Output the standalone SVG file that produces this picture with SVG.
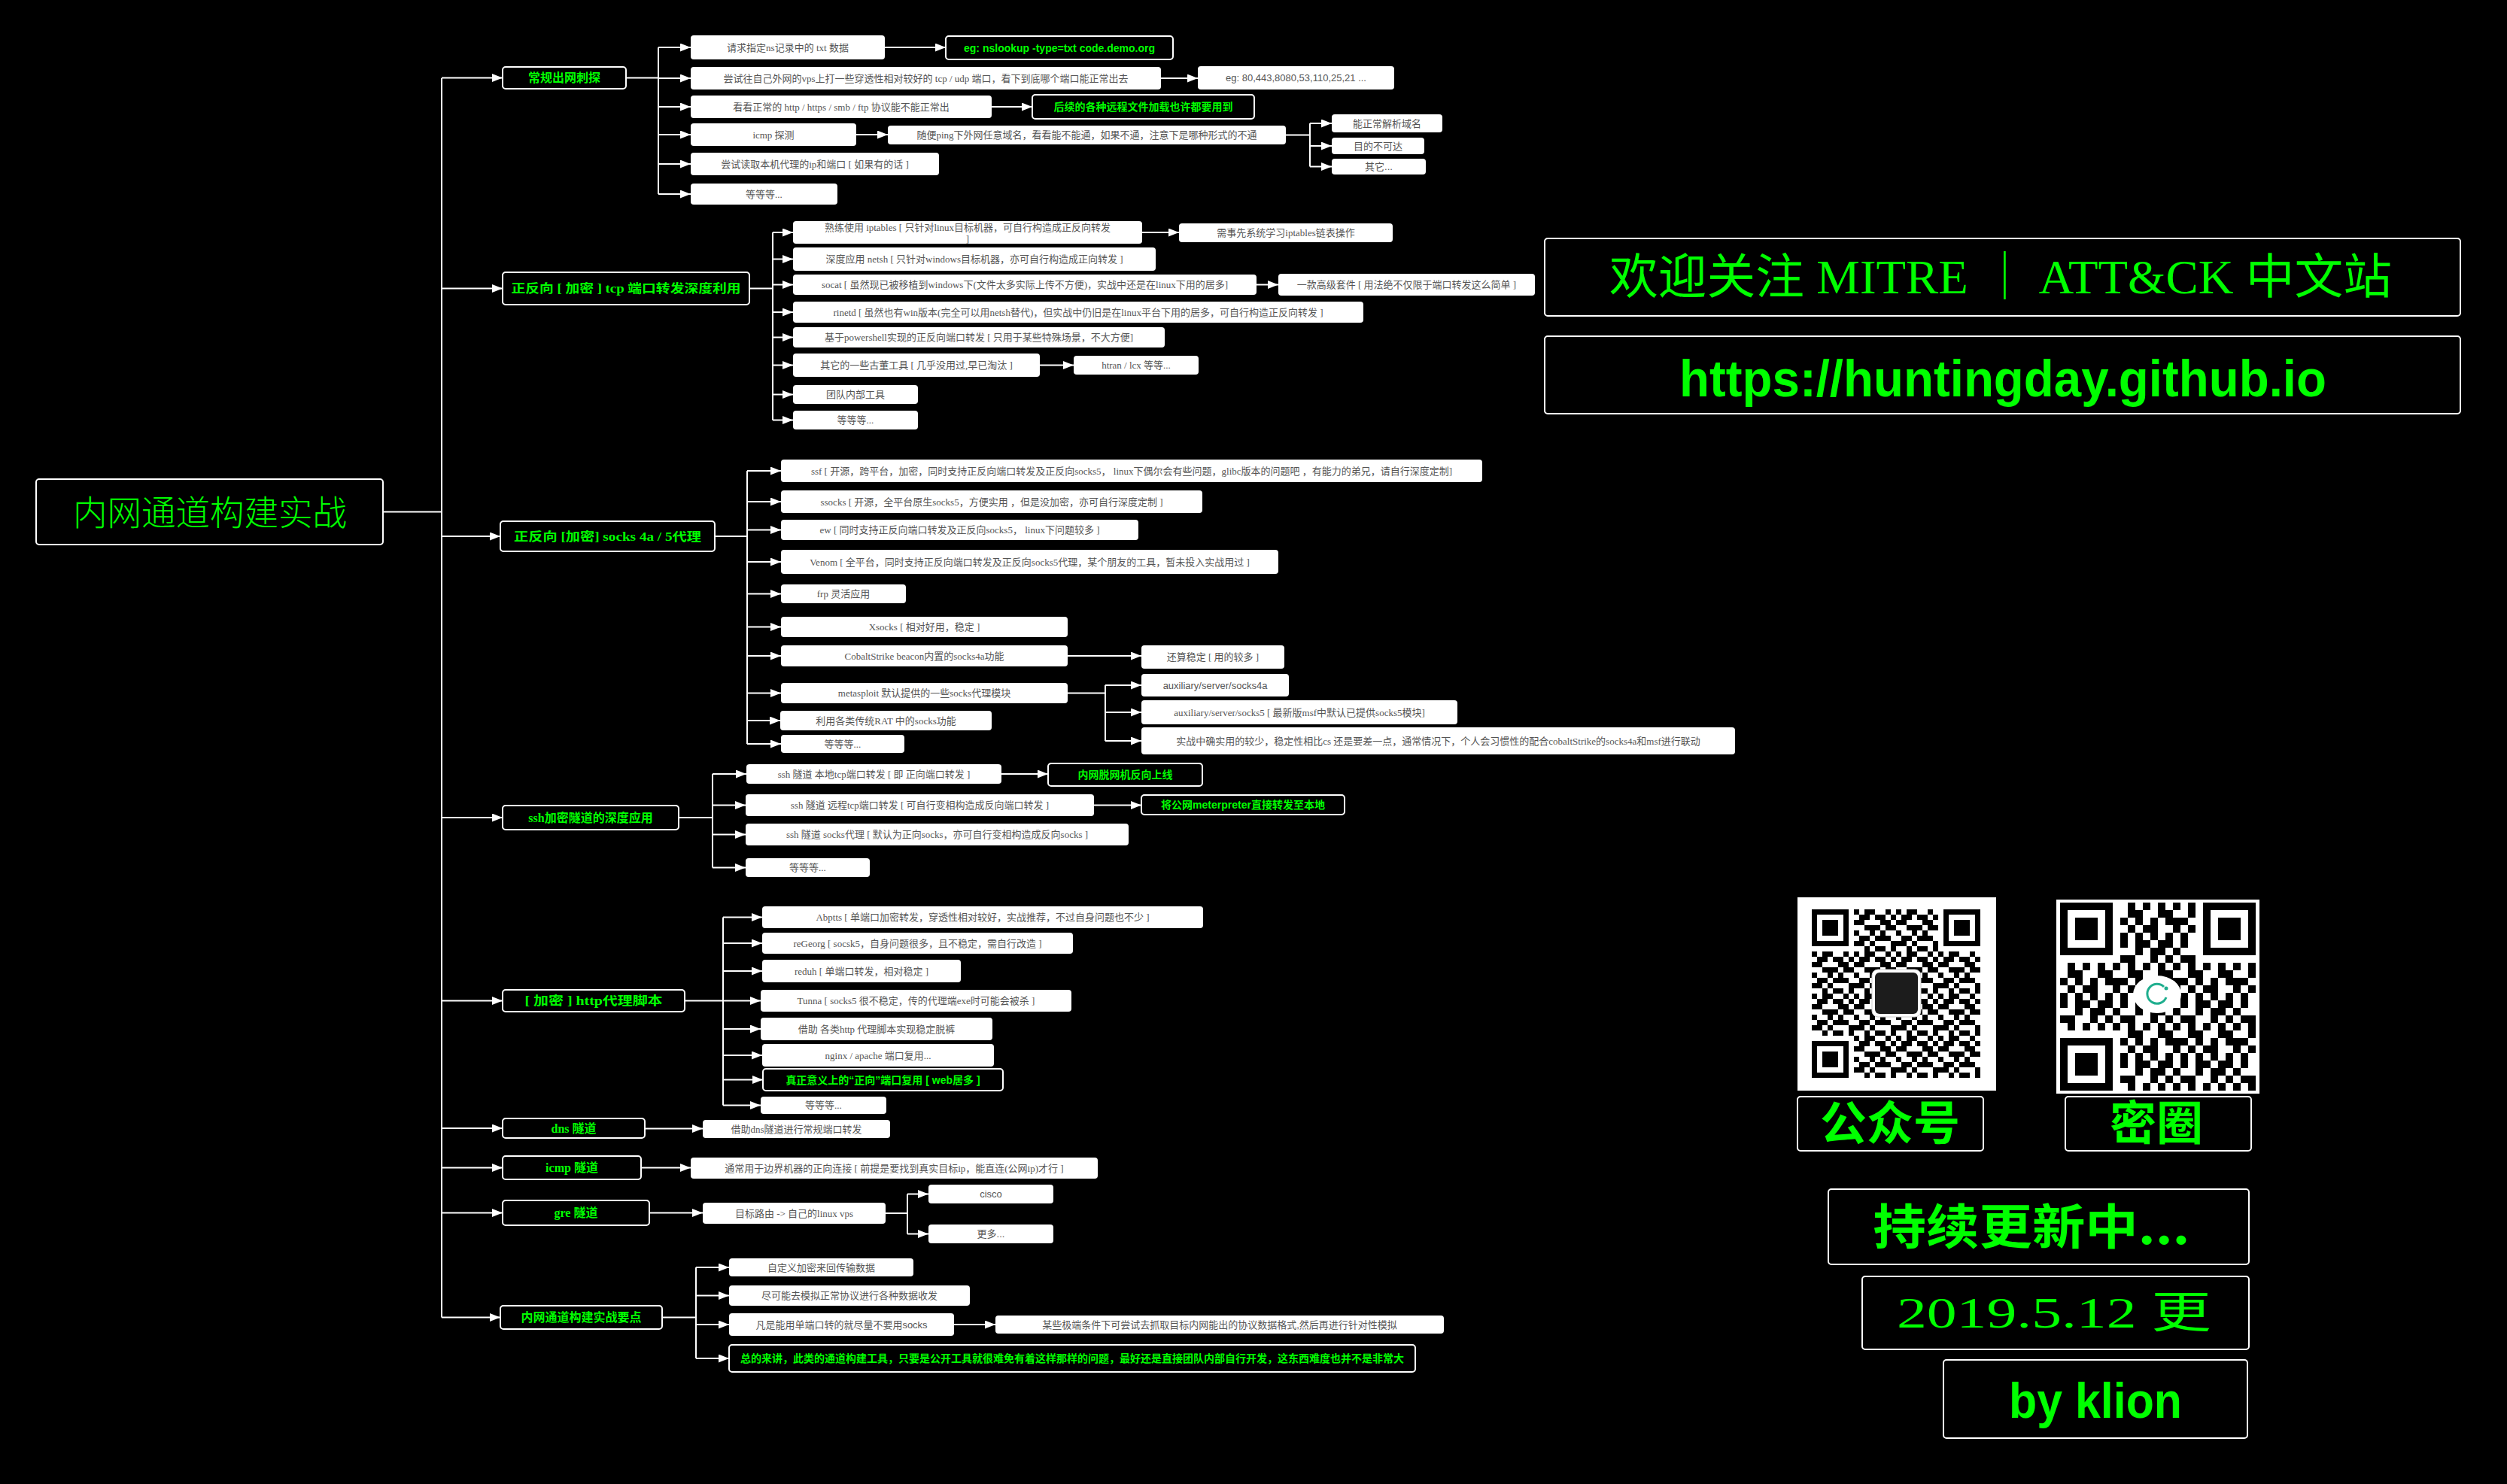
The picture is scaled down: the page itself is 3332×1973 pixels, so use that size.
<svg xmlns="http://www.w3.org/2000/svg" width="3332" height="1973" viewBox="0 0 3332 1973">
<style>
.w rect{fill:#fff}
.g rect{fill:#000;stroke:#fff;stroke-width:2}
text{dominant-baseline:central;text-anchor:middle}
.t{font-family:"Liberation Serif","Noto Sans CJK SC",serif;font-size:13px;fill:#555}
.s{font-family:"Liberation Sans","Noto Sans CJK SC",sans-serif;font-size:13px;fill:#555}
.gt{font-family:"Liberation Sans","Noto Sans CJK SC",sans-serif;font-size:14px;fill:#00ff00;font-weight:bold}
.pt{font-family:"Liberation Serif","Noto Sans CJK SC",serif;font-size:16px;fill:#00ff00;font-weight:bold}
.big{dominant-baseline:auto;fill:#00ff00}
.c{fill:none;stroke:#fff;stroke-width:2}
.a{marker-end:url(#arr)}
</style>
<defs>
<marker id="arr" markerUnits="userSpaceOnUse" viewBox="0 0 14 11" refX="14" refY="5.5" markerWidth="14" markerHeight="11" orient="auto"><path d="M0 0L14 5.5L0 11z" fill="#fff"/></marker>
<path id="tile" d="M0 0h1v1h-1z M2 0h2v1h-2z M6 0h1v1h-1z M1 1h2v1h-2z M4 1h2v1h-2z M7 1h1v1h-1z M0 2h2v1h-2z M5 2h2v1h-2z M2 3h3v1h-3z M6 3h2v1h-2z M0 4h1v1h-1z M3 4h1v1h-1z M5 4h1v1h-1z M1 5h2v1h-2z M4 5h3v1h-3z M0 6h2v1h-2z M3 6h1v1h-1z M7 6h1v1h-1z M2 7h1v1h-1z M4 7h2v1h-2z M7 7h1v1h-1z"/>
<pattern id="qr1" patternUnits="userSpaceOnUse" width="8" height="8" patternTransform="translate(2408 1209) scale(7)"><use href="#tile" fill="#000"/></pattern>
<pattern id="qr2" patternUnits="userSpaceOnUse" width="8" height="8" patternTransform="translate(2738 1200) scale(10) rotate(90)"><use href="#tile" fill="#000"/></pattern>
</defs>
<rect width="3332" height="1973" fill="#000"/>

<g id="connectors">
<path class="c" d="M509 680.5H587M587 104V1751.5"/>
<path class="c a" d="M587 103.5H668"/>
<path class="c a" d="M587 383.5H668"/>
<path class="c a" d="M587 713H665"/>
<path class="c a" d="M587 1087H668"/>
<path class="c a" d="M587 1330.5H668"/>
<path class="c a" d="M587 1500H668"/>
<path class="c a" d="M587 1552.5H668"/>
<path class="c a" d="M587 1612.5H668"/>
<path class="c a" d="M587 1751.5H665"/>
<path class="c" d="M832 103.5H875M875 63V258"/>
<path class="c a" d="M875 63H918"/>
<path class="c a" d="M875 104H918"/>
<path class="c a" d="M875 142H918"/>
<path class="c a" d="M875 179H918"/>
<path class="c a" d="M875 218H918"/>
<path class="c a" d="M875 258H918"/>
<path class="c a" d="M1176 63H1257"/>
<path class="c a" d="M1543 104H1592"/>
<path class="c a" d="M1318 142H1372"/>
<path class="c a" d="M1138 179H1180"/>
<path class="c" d="M1709 179.5H1741M1741 164V221.5"/>
<path class="c a" d="M1741 164H1770"/>
<path class="c a" d="M1741 194H1770"/>
<path class="c a" d="M1741 221.5H1770"/>
<path class="c" d="M996 383.5H1027M1027 309V558.5"/>
<path class="c a" d="M1027 309H1054"/>
<path class="c a" d="M1027 344.5H1054"/>
<path class="c a" d="M1027 378.5H1054"/>
<path class="c a" d="M1027 415H1054"/>
<path class="c a" d="M1027 448.5H1054"/>
<path class="c a" d="M1027 485.5H1054"/>
<path class="c a" d="M1027 524.5H1054"/>
<path class="c a" d="M1027 558.5H1054"/>
<path class="c a" d="M1518 309H1567"/>
<path class="c a" d="M1670 378.5H1699"/>
<path class="c a" d="M1382 485.5H1427"/>
<path class="c" d="M950 713H993M993 626V989"/>
<path class="c a" d="M993 626H1038"/>
<path class="c a" d="M993 667H1038"/>
<path class="c a" d="M993 704.5H1038"/>
<path class="c a" d="M993 747H1038"/>
<path class="c a" d="M993 789.5H1038"/>
<path class="c a" d="M993 833.5H1038"/>
<path class="c a" d="M993 872H1038"/>
<path class="c a" d="M993 921.5H1038"/>
<path class="c a" d="M993 958H1037"/>
<path class="c a" d="M993 989H1038"/>
<path class="c a" d="M1419 872H1517"/>
<path class="c" d="M1419 921.5H1469M1469 911V985"/>
<path class="c a" d="M1469 911H1517"/>
<path class="c a" d="M1469 947H1517"/>
<path class="c a" d="M1469 985H1517"/>
<path class="c" d="M902 1087H947M947 1029V1153.5"/>
<path class="c a" d="M947 1029H992"/>
<path class="c a" d="M947 1070.5H991"/>
<path class="c a" d="M947 1109.5H991"/>
<path class="c a" d="M947 1153.5H991"/>
<path class="c a" d="M1331 1029H1393"/>
<path class="c a" d="M1454 1070.5H1517"/>
<path class="c" d="M910 1330.5H961M961 1219.5V1469.5"/>
<path class="c a" d="M961 1219.5H1013"/>
<path class="c a" d="M961 1254H1013"/>
<path class="c a" d="M961 1291H1013"/>
<path class="c a" d="M961 1330.5H1011"/>
<path class="c a" d="M961 1368H1011"/>
<path class="c a" d="M961 1403H1013"/>
<path class="c a" d="M961 1435.5H1014"/>
<path class="c a" d="M961 1469.5H1011"/>
<path class="c a" d="M857 1500.5H934"/>
<path class="c a" d="M852 1552.5H918"/>
<path class="c a" d="M863 1612.5H934"/>
<path class="c" d="M1177 1613H1206M1206 1587.5V1640.5"/>
<path class="c a" d="M1206 1587.5H1234"/>
<path class="c a" d="M1206 1640.5H1234"/>
<path class="c" d="M880 1751.5H925M925 1685V1806"/>
<path class="c a" d="M925 1685H969"/>
<path class="c a" d="M925 1722.5H969"/>
<path class="c a" d="M925 1761H969"/>
<path class="c a" d="M925 1806H969"/>
<path class="c a" d="M1268 1761H1323"/>
</g>

<g id="root" class="g"><rect x="48" y="637" width="461" height="87" rx="4"/><text x="279" y="698" class="big" style="font-family:'Noto Sans CJK SC',serif;font-size:46px;font-weight:300" textLength="364" lengthAdjust="spacingAndGlyphs">内网通道构建实战</text></g>

<g id="p1" class="g"><rect x="668" y="89" width="164" height="29" rx="4"/><text class="pt" x="750" y="103.5">常规出网刺探</text></g>
<g id="p2" class="g"><rect x="668" y="362" width="328" height="43" rx="4"/><text class="pt" x="832" y="383.5" textLength="305" lengthAdjust="spacingAndGlyphs">正反向 [ 加密 ]  tcp 端口转发深度利用</text></g>
<g id="p3" class="g"><rect x="665" y="693" width="285" height="40" rx="4"/><text class="pt" x="807.5" y="713" textLength="249" lengthAdjust="spacingAndGlyphs">正反向 [加密] socks 4a / 5代理</text></g>
<g id="p4" class="g"><rect x="668" y="1071" width="234" height="32" rx="4"/><text class="pt" x="785" y="1087">ssh加密隧道的深度应用</text></g>
<g id="p5" class="g"><rect x="668" y="1316" width="242" height="29" rx="4"/><text class="pt" x="789" y="1330.5" textLength="183" lengthAdjust="spacingAndGlyphs">[ 加密 ]  http代理脚本</text></g>
<g id="p6" class="g"><rect x="668" y="1487" width="189" height="26" rx="4"/><text class="pt" x="762.5" y="1500">dns 隧道</text></g>
<g id="p7" class="g"><rect x="668" y="1537" width="184" height="31" rx="4"/><text class="pt" x="760" y="1552.5">icmp 隧道</text></g>
<g id="p8" class="g"><rect x="668" y="1596" width="195" height="33" rx="4"/><text class="pt" x="765.5" y="1612.5">gre 隧道</text></g>
<g id="p9" class="g"><rect x="665" y="1736" width="215" height="31" rx="4"/><text class="pt" x="772.5" y="1751.5">内网通道构建实战要点</text></g>

<g id="a1" class="w"><rect x="918" y="47" width="258" height="32" rx="4"/><text class="t" x="1047" y="63">请求指定ns记录中的 txt 数据</text></g>
<g id="a1x" class="g"><rect x="1257" y="48" width="302" height="31" rx="4"/><text class="gt" x="1408" y="63.5">eg: nslookup -type=txt code.demo.org</text></g>
<g id="a2" class="w"><rect x="918" y="89" width="625" height="30" rx="4"/><text class="t" x="1230.5" y="104">尝试往自己外网的vps上打一些穿透性相对较好的 tcp / udp 端口，看下到底哪个端口能正常出去</text></g>
<g id="a2x" class="w"><rect x="1592" y="88" width="261" height="31" rx="4"/><text class="s" x="1722.5" y="103.5">eg: 80,443,8080,53,110,25,21 ...</text></g>
<g id="a3" class="w"><rect x="918" y="127" width="400" height="30" rx="4"/><text class="t" x="1118" y="142">看看正常的 http / https / smb / ftp 协议能不能正常出</text></g>
<g id="a3x" class="g"><rect x="1372" y="126" width="295" height="32" rx="4"/><text class="gt" x="1519.5" y="142">后续的各种远程文件加载也许都要用到</text></g>
<g id="a4" class="w"><rect x="918" y="164" width="220" height="30" rx="4"/><text class="t" x="1028" y="179">icmp 探测</text></g>
<g id="a4x" class="w"><rect x="1180" y="167" width="529" height="25" rx="4"/><text class="t" x="1444.5" y="179.5">随便ping下外网任意域名，看看能不能通，如果不通，注意下是哪种形式的不通</text></g>
<g id="a4a" class="w"><rect x="1770" y="152" width="147" height="24" rx="4"/><text class="s" x="1843.5" y="164">能正常解析域名</text></g>
<g id="a4b" class="w"><rect x="1770" y="183" width="123" height="22" rx="4"/><text class="s" x="1831.5" y="194">目的不可达</text></g>
<g id="a4c" class="w"><rect x="1770" y="211" width="125" height="21" rx="4"/><text class="s" x="1832.5" y="221.5">其它...</text></g>
<g id="a5" class="w"><rect x="918" y="203" width="330" height="30" rx="4"/><text class="t" x="1083" y="218">尝试读取本机代理的ip和端口 [ 如果有的话 ]</text></g>
<g id="a6" class="w"><rect x="918" y="244" width="195" height="28" rx="4"/><text class="t" x="1015.5" y="258">等等等...</text></g>

<g id="b1" class="w"><rect x="1054" y="294" width="464" height="30" rx="4"/><text class="t" x="1286" y="302">熟练使用 iptables [  只针对linux目标机器，可自行构造成正反向转发</text><text class="t" x="1286" y="317">]</text></g>
<g id="b1x" class="w"><rect x="1567" y="297" width="284" height="25" rx="4"/><text class="t" x="1709" y="309.5">需事先系统学习iptables链表操作</text></g>
<g id="b2" class="w"><rect x="1054" y="329" width="482" height="31" rx="4"/><text class="t" x="1295" y="344.5">深度应用  netsh  [ 只针对windows目标机器，亦可自行构造成正向转发 ]</text></g>
<g id="b3" class="w"><rect x="1054" y="365" width="616" height="27" rx="4"/><text class="t" x="1362" y="378.5">socat [  虽然现已被移植到windows下(文件太多实际上传不方便)，实战中还是在linux下用的居多]</text></g>
<g id="b3x" class="w"><rect x="1699" y="364" width="341" height="29" rx="4"/><text class="t" x="1869.5" y="378.5">一款高级套件 [ 用法绝不仅限于端口转发这么简单 ]</text></g>
<g id="b4" class="w"><rect x="1054" y="401" width="758" height="28" rx="4"/><text class="t" x="1433" y="415">rinetd [  虽然也有win版本(完全可以用netsh替代)，但实战中仍旧是在linux平台下用的居多，可自行构造正反向转发 ]</text></g>
<g id="b5" class="w"><rect x="1054" y="435" width="494" height="27" rx="4"/><text class="t" x="1301" y="448.5">基于powershell实现的正反向端口转发 [ 只用于某些特殊场景，不大方便]</text></g>
<g id="b6" class="w"><rect x="1054" y="470" width="328" height="31" rx="4"/><text class="t" x="1218" y="485.5">其它的一些古董工具 [ 几乎没用过,早已淘汰 ]</text></g>
<g id="b6x" class="w"><rect x="1427" y="473" width="166" height="25" rx="4"/><text class="t" x="1510" y="485.5">htran / lcx 等等...</text></g>
<g id="b7" class="w"><rect x="1054" y="512" width="166" height="25" rx="4"/><text class="t" x="1137" y="524.5">团队内部工具</text></g>
<g id="b8" class="w"><rect x="1054" y="546" width="166" height="25" rx="4"/><text class="t" x="1137" y="558.5">等等等...</text></g>

<g id="c1" class="w"><rect x="1038" y="611" width="932" height="30" rx="4"/><text class="t" x="1504" y="626">ssf [  开源，跨平台，加密，同时支持正反向端口转发及正反向socks5， linux下偶尔会有些问题，glibc版本的问题吧 ，有能力的弟兄，请自行深度定制]</text></g>
<g id="c2" class="w"><rect x="1038" y="652" width="560" height="30" rx="4"/><text class="t" x="1318" y="667">ssocks [  开源，全平台原生socks5，方便实用 ，但是没加密，亦可自行深度定制 ]</text></g>
<g id="c3" class="w"><rect x="1038" y="691" width="475" height="27" rx="4"/><text class="t" x="1275.5" y="704.5">ew [  同时支持正反向端口转发及正反向socks5， linux下问题较多  ]</text></g>
<g id="c4" class="w"><rect x="1038" y="731" width="661" height="32" rx="4"/><text class="t" x="1368.5" y="747">Venom [  全平台，同时支持正反向端口转发及正反向socks5代理，某个朋友的工具，暂未投入实战用过 ]</text></g>
<g id="c5" class="w"><rect x="1038" y="777" width="166" height="25" rx="4"/><text class="t" x="1121" y="789.5">frp 灵活应用</text></g>
<g id="c6" class="w"><rect x="1038" y="820" width="381" height="27" rx="4"/><text class="t" x="1228.5" y="833.5">Xsocks [  相对好用，稳定 ]</text></g>
<g id="c7" class="w"><rect x="1038" y="858" width="381" height="28" rx="4"/><text class="t" x="1228.5" y="872">CobaltStrike beacon内置的socks4a功能</text></g>
<g id="c7x" class="w"><rect x="1517" y="858" width="190" height="31" rx="4"/><text class="t" x="1612" y="873.5">还算稳定 [ 用的较多 ]</text></g>
<g id="c8" class="w"><rect x="1038" y="908" width="381" height="27" rx="4"/><text class="t" x="1228.5" y="921.5">metasploit 默认提供的一些socks代理模块</text></g>
<g id="c8a" class="w"><rect x="1517" y="896" width="196" height="30" rx="4"/><text class="s" x="1615" y="911">auxiliary/server/socks4a</text></g>
<g id="c8b" class="w"><rect x="1517" y="931" width="420" height="32" rx="4"/><text class="t" x="1727" y="947">auxiliary/server/socks5 [ 最新版msf中默认已提供socks5模块]</text></g>
<g id="c8c" class="w"><rect x="1517" y="967" width="789" height="36" rx="4"/><text class="t" x="1911.5" y="985">实战中确实用的较少，稳定性相比cs 还是要差一点，通常情况下，个人会习惯性的配合cobaltStrike的socks4a和msf进行联动</text></g>
<g id="c9" class="w"><rect x="1037" y="945" width="281" height="26" rx="4"/><text class="t" x="1177.5" y="958">利用各类传统RAT 中的socks功能</text></g>
<g id="c10" class="w"><rect x="1038" y="977" width="164" height="24" rx="4"/><text class="t" x="1120" y="989">等等等...</text></g>

<g id="d1" class="w"><rect x="992" y="1016" width="339" height="26" rx="4"/><text class="t" x="1161.5" y="1029">ssh 隧道 本地tcp端口转发 [  即 正向端口转发 ]</text></g>
<g id="d1x" class="g"><rect x="1393" y="1015" width="205" height="30" rx="4"/><text class="gt" x="1495.5" y="1030">内网脱网机反向上线</text></g>
<g id="d2" class="w"><rect x="991" y="1056" width="463" height="29" rx="4"/><text class="t" x="1222.5" y="1070.5">ssh 隧道 远程tcp端口转发 [ 可自行变相构造成反向端口转发 ]</text></g>
<g id="d2x" class="g"><rect x="1517" y="1057" width="270" height="26" rx="4"/><text class="gt" x="1652" y="1070">将公网meterpreter直接转发至本地</text></g>
<g id="d3" class="w"><rect x="991" y="1095" width="509" height="29" rx="4"/><text class="t" x="1245.5" y="1109.5">ssh 隧道 socks代理 [ 默认为正向socks，亦可自行变相构造成反向socks  ]</text></g>
<g id="d4" class="w"><rect x="991" y="1141" width="165" height="25" rx="4"/><text class="t" x="1073.5" y="1153.5">等等等...</text></g>

<g id="e1" class="w"><rect x="1013" y="1205" width="586" height="29" rx="4"/><text class="t" x="1306" y="1219.5">Abptts [ 单端口加密转发，穿透性相对较好，实战推荐，不过自身问题也不少 ]</text></g>
<g id="e2" class="w"><rect x="1013" y="1240" width="413" height="28" rx="4"/><text class="t" x="1219.5" y="1254">reGeorg [ socsk5，自身问题很多，且不稳定，需自行改造 ]</text></g>
<g id="e3" class="w"><rect x="1013" y="1276" width="264" height="30" rx="4"/><text class="t" x="1145" y="1291">reduh [ 单端口转发，相对稳定 ]</text></g>
<g id="e4" class="w"><rect x="1011" y="1316" width="413" height="29" rx="4"/><text class="t" x="1217.5" y="1330.5">Tunna [ socks5 很不稳定，传的代理端exe时可能会被杀 ]</text></g>
<g id="e5" class="w"><rect x="1011" y="1353" width="308" height="30" rx="4"/><text class="t" x="1165" y="1368">借助 各类http 代理脚本实现稳定脱裤</text></g>
<g id="e6" class="w"><rect x="1013" y="1388" width="308" height="30" rx="4"/><text class="t" x="1167" y="1403">nginx / apache 端口复用...</text></g>
<g id="e7" class="g"><rect x="1014" y="1421" width="319" height="29" rx="4"/><text class="gt" x="1173.5" y="1435.5">真正意义上的“正向”端口复用 [ web居多 ]</text></g>
<g id="e8" class="w"><rect x="1011" y="1458" width="167" height="23" rx="4"/><text class="t" x="1094.5" y="1469.5">等等等...</text></g>

<g id="h1" class="w"><rect x="934" y="1489" width="249" height="24" rx="4"/><text class="t" x="1058.5" y="1501">借助dns隧道进行常规端口转发</text></g>
<g id="h2" class="w"><rect x="918" y="1539" width="541" height="28" rx="4"/><text class="t" x="1188.5" y="1553">通常用于边界机器的正向连接 [ 前提是要找到真实目标ip，能直连(公网ip)才行 ]</text></g>
<g id="h3" class="w"><rect x="934" y="1599" width="243" height="28" rx="4"/><text class="t" x="1055.5" y="1613">目标路由 -&gt; 自己的linux vps</text></g>
<g id="h3a" class="w"><rect x="1234" y="1575" width="166" height="25" rx="4"/><text class="s" x="1317" y="1587.5">cisco</text></g>
<g id="h3b" class="w"><rect x="1234" y="1628" width="166" height="25" rx="4"/><text class="s" x="1317" y="1640.5">更多...</text></g>

<g id="g1" class="w"><rect x="969" y="1673" width="245" height="24" rx="4"/><text class="s" x="1091.5" y="1685">自定义加密来回传输数据</text></g>
<g id="g2" class="w"><rect x="969" y="1709" width="320" height="27" rx="4"/><text class="s" x="1129" y="1722.5">尽可能去模拟正常协议进行各种数据收发</text></g>
<g id="g3" class="w"><rect x="969" y="1746" width="299" height="30" rx="4"/><text class="s" x="1118.5" y="1761">凡是能用单端口转的就尽量不要用socks</text></g>
<g id="g3x" class="w"><rect x="1323" y="1749" width="596" height="24" rx="4"/><text class="s" x="1621" y="1761">某些极端条件下可尝试去抓取目标内网能出的协议数据格式,然后再进行针对性模拟</text></g>
<g id="g4" class="g"><rect x="969" y="1788" width="912" height="36" rx="4"/><text class="gt" x="1425" y="1806">总的来讲，此类的通道构建工具，只要是公开工具就很难免有着这样那样的问题，最好还是直接团队内部自行开发，这东西难度也并不是非常大</text></g>

<g id="banner1" class="g"><rect x="2053" y="317" width="1217" height="103" rx="4"/><text class="big" x="2659" y="390" style="font-family:'Liberation Serif','Noto Sans CJK SC',serif;font-size:64px" textLength="1040" lengthAdjust="spacingAndGlyphs">欢迎关注 MITRE ｜ ATT&amp;CK 中文站</text></g>
<g id="banner2" class="g"><rect x="2053" y="447" width="1217" height="103" rx="4"/><text class="big" x="2662" y="527" style="font-family:'Liberation Sans',sans-serif;font-size:68px;font-weight:bold" textLength="860" lengthAdjust="spacingAndGlyphs">https://huntingday.github.io</text></g>

<g id="qrcode1">
<rect x="2389" y="1193" width="264" height="257" fill="#fff"/>
<rect x="2408" y="1209" width="224" height="224" fill="url(#qr1)"/>
<rect x="2408" y="1209" width="56" height="56" fill="#fff"/><rect x="2576" y="1209" width="56" height="56" fill="#fff"/><rect x="2408" y="1377" width="56" height="56" fill="#fff"/>
<rect x="2408" y="1209" width="49" height="49" fill="#000"/><rect x="2415" y="1216" width="35" height="35" fill="#fff"/><rect x="2422" y="1223" width="21" height="21" fill="#000"/>
<rect x="2583" y="1209" width="49" height="49" fill="#000"/><rect x="2590" y="1216" width="35" height="35" fill="#fff"/><rect x="2597" y="1223" width="21" height="21" fill="#000"/>
<rect x="2408" y="1384" width="49" height="49" fill="#000"/><rect x="2415" y="1391" width="35" height="35" fill="#fff"/><rect x="2422" y="1398" width="21" height="21" fill="#000"/>
<rect x="2488" y="1289" width="65" height="63" rx="8" fill="#fff" stroke="#ccc"/>
<rect x="2492" y="1293" width="57" height="55" rx="6" fill="#1c1c1c"/>
</g>
<g id="qrcode2">
<rect x="2733" y="1196" width="270" height="258" fill="#fff"/>
<rect x="2738" y="1200" width="260" height="250" fill="url(#qr2)"/>
<rect x="2738" y="1200" width="80" height="80" fill="#fff"/><rect x="2918" y="1200" width="80" height="80" fill="#fff"/><rect x="2738" y="1370" width="80" height="80" fill="#fff"/>
<rect x="2738" y="1200" width="70" height="70" fill="#000"/><rect x="2748" y="1210" width="50" height="50" fill="#fff"/><rect x="2758" y="1220" width="30" height="30" fill="#000"/>
<rect x="2928" y="1200" width="70" height="70" fill="#000"/><rect x="2938" y="1210" width="50" height="50" fill="#fff"/><rect x="2948" y="1220" width="30" height="30" fill="#000"/>
<rect x="2738" y="1380" width="70" height="70" fill="#000"/><rect x="2748" y="1390" width="50" height="50" fill="#fff"/><rect x="2758" y="1400" width="30" height="30" fill="#000"/>
<ellipse cx="2867" cy="1322" rx="32" ry="25" fill="#fff"/>
<path d="M2876 1312A13 13 0 1 0 2879 1326" fill="none" stroke="#1fae8e" stroke-width="3"/>
<circle cx="2879" cy="1314" r="2.5" fill="#1fae8e"/>
</g>

<g id="label1" class="g"><rect x="2389" y="1458" width="247" height="72" rx="4"/><text class="big" x="2512" y="1516" style="font-family:'Noto Sans CJK SC',sans-serif;font-size:62px;font-weight:bold">公众号</text></g>
<g id="label2" class="g"><rect x="2745" y="1458" width="247" height="72" rx="4"/><text class="big" x="2866" y="1516" style="font-family:'Noto Sans CJK SC',sans-serif;font-size:62px;font-weight:bold">密圈</text></g>
<g id="update" class="g"><rect x="2430" y="1581" width="559" height="100" rx="4"/><text class="big" x="2700" y="1654" style="font-family:'Noto Sans CJK SC',sans-serif;font-size:64px;font-weight:bold" textLength="421" lengthAdjust="spacingAndGlyphs">持续更新中...</text></g>
<g id="date" class="g"><rect x="2475" y="1697" width="514" height="97" rx="4"/><text class="big" x="2730" y="1765" style="font-family:'Liberation Serif','Noto Sans CJK SC',serif;font-size:58px" textLength="418" lengthAdjust="spacingAndGlyphs">2019.5.12 更</text></g>
<g id="author" class="g"><rect x="2583" y="1808" width="404" height="104" rx="4"/><text class="big" x="2785" y="1885" style="font-family:'Liberation Sans',sans-serif;font-size:66px;font-weight:bold" textLength="230" lengthAdjust="spacingAndGlyphs">by klion</text></g>
</svg>
